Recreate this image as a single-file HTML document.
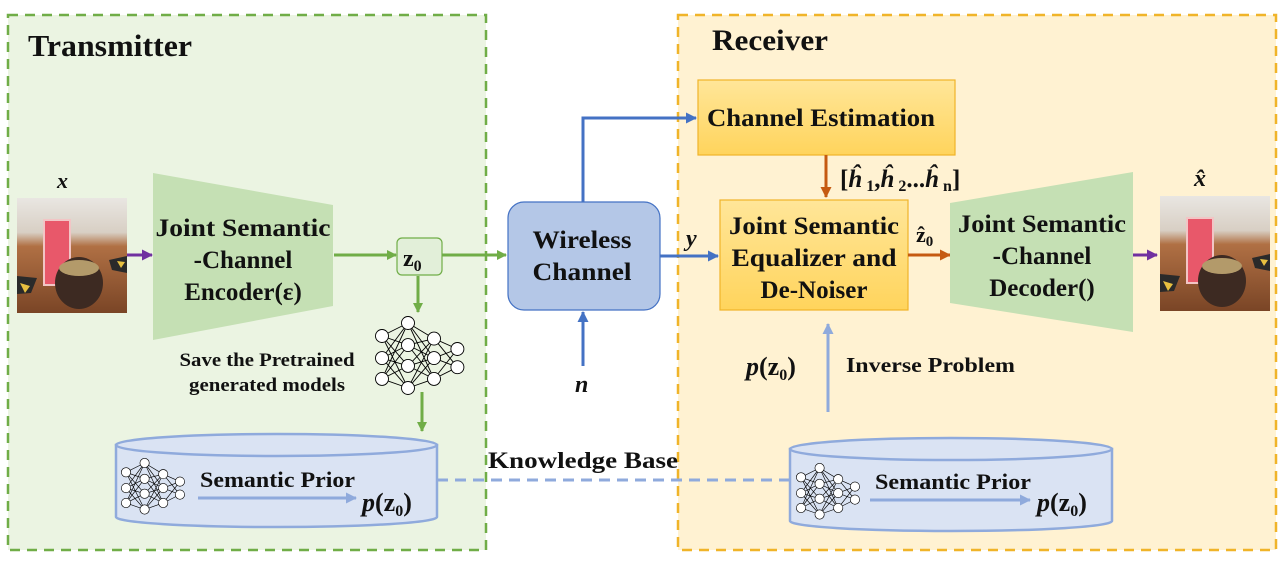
<!DOCTYPE html>
<html><head><meta charset="utf-8"><style>
html,body{margin:0;padding:0;background:#fff;}
svg{display:block;}
text{font-family:"Liberation Serif",serif;font-weight:bold;fill:#111;}
</style></head><body>
<svg width="1280" height="567" viewBox="0 0 1280 567" xmlns="http://www.w3.org/2000/svg">
<defs>
<marker id="ag" markerWidth="10" markerHeight="10" refX="9" refY="5" orient="auto" markerUnits="userSpaceOnUse"><path d="M0,0 L10,5 L0,10z" fill="#70ad47"/></marker>
<marker id="ab" markerWidth="11" markerHeight="11" refX="10" refY="5.5" orient="auto" markerUnits="userSpaceOnUse"><path d="M0,0 L11,5.5 L0,11z" fill="#4472c4"/></marker>
<marker id="al" markerWidth="11" markerHeight="11" refX="10" refY="5.5" orient="auto" markerUnits="userSpaceOnUse"><path d="M0,0 L11,5.5 L0,11z" fill="#8faadc"/></marker>
<marker id="ao" markerWidth="11" markerHeight="11" refX="10" refY="5.5" orient="auto" markerUnits="userSpaceOnUse"><path d="M0,0 L11,5.5 L0,11z" fill="#c55a11"/></marker>
<marker id="ap" markerWidth="11" markerHeight="11" refX="10" refY="5.5" orient="auto" markerUnits="userSpaceOnUse"><path d="M0,0 L11,5.5 L0,11z" fill="#7030a0"/></marker>
<linearGradient id="wood" x1="0" y1="0" x2="0" y2="1"><stop offset="0" stop-color="#e9e6e2"/><stop offset="0.3" stop-color="#d8cfc4"/><stop offset="0.42" stop-color="#b07044"/><stop offset="1" stop-color="#7a4526"/></linearGradient>
<linearGradient id="yel" x1="0" y1="0" x2="0" y2="1"><stop offset="0" stop-color="#ffe699"/><stop offset="1" stop-color="#ffd45c"/></linearGradient>
<g id="nn" stroke="#000" stroke-width="0.7" fill="#fff">
<path d="M0,10 L20,0 M0,10 L20,17 M0,10 L20,33 M0,10 L20,50 M0,27 L20,0 M0,27 L20,17 M0,27 L20,33 M0,27 L20,50 M0,43 L20,0 M0,43 L20,17 M0,43 L20,33 M0,43 L20,50 M20,0 L40,12 M20,0 L40,27 M20,0 L40,43 M20,17 L40,12 M20,17 L40,27 M20,17 L40,43 M20,33 L40,12 M20,33 L40,27 M20,33 L40,43 M20,50 L40,12 M20,50 L40,27 M20,50 L40,43 M40,12 L58,20 M40,12 L58,34 M40,27 L58,20 M40,27 L58,34 M40,43 L58,20 M40,43 L58,34" fill="none"/>
<circle cx="0" cy="10" r="5"/><circle cx="0" cy="27" r="5"/><circle cx="0" cy="43" r="5"/>
<circle cx="20" cy="0" r="5"/><circle cx="20" cy="17" r="5"/><circle cx="20" cy="33" r="5"/><circle cx="20" cy="50" r="5"/>
<circle cx="40" cy="12" r="5"/><circle cx="40" cy="27" r="5"/><circle cx="40" cy="43" r="5"/>
<circle cx="58" cy="20" r="5"/><circle cx="58" cy="34" r="5"/>
</g>
<g id="photo">
<rect x="0" y="0" width="110" height="115" fill="url(#wood)"/>
<rect x="27" y="22" width="26" height="65" fill="#e8586a" stroke="#f2c5c5" stroke-width="2"/>
<ellipse cx="62" cy="85" rx="24" ry="26" fill="#3d2a22"/>
<ellipse cx="62" cy="70" rx="20" ry="8" fill="#b39a6a"/>
<path d="M0,78 L20,80 L14,95 L0,96z" fill="#2a2a2a"/><path d="M3,85 L13,88 L8,95z" fill="#e7c040"/>
<path d="M92,62 L110,58 L110,75 L95,72z" fill="#2a2a2a"/><path d="M100,63 L108,64 L104,70z" fill="#e7c040"/>
</g>
</defs>

<rect x="8" y="15" width="478" height="535" fill="#ebf4e2" stroke="#70ad47" stroke-width="2.5" stroke-dasharray="10,7"/>
<rect x="678" y="15" width="598" height="535" fill="#fff2d2" stroke="#f0b429" stroke-width="2.5" stroke-dasharray="10,7"/>
<text x="28" y="56" font-size="31" textLength="164" lengthAdjust="spacingAndGlyphs">Transmitter</text>
<text x="712" y="50" font-size="30" textLength="116" lengthAdjust="spacingAndGlyphs">Receiver</text>

<text x="57" y="188" font-size="22" font-style="italic">x</text>
<use href="#photo" x="17" y="198"/>
<line x1="127" y1="255" x2="152" y2="255" stroke="#7030a0" stroke-width="3" marker-end="url(#ap)"/>

<polygon points="153,173 333,205 333,306 153,340" fill="#c5e0b4"/>
<g font-size="25" text-anchor="middle">
<text x="243" y="236" textLength="175" lengthAdjust="spacingAndGlyphs">Joint Semantic</text>
<text x="243" y="268">-Channel</text>
<text x="243" y="300">Encoder(ε)</text></g>
<line x1="334" y1="255" x2="396" y2="255" stroke="#70ad47" stroke-width="3" marker-end="url(#ag)"/>
<rect x="397" y="238" width="45" height="37" rx="5" fill="#e2efd9" stroke="#70ad47" stroke-width="1.2"/>
<text x="403" y="266" font-size="24">z<tspan font-size="16" dy="5">0</tspan></text>
<line x1="442" y1="255" x2="506" y2="255" stroke="#70ad47" stroke-width="3" marker-end="url(#ag)"/>
<line x1="418" y1="276" x2="418" y2="312" stroke="#70ad47" stroke-width="3" marker-end="url(#ag)"/>
<use href="#nn" transform="translate(382,323) scale(1.3)"/>
<line x1="422" y1="392" x2="422" y2="431" stroke="#70ad47" stroke-width="3" marker-end="url(#ag)"/>
<g font-size="19" text-anchor="middle">
<text x="267" y="366" textLength="175" lengthAdjust="spacingAndGlyphs">Save the Pretrained</text>
<text x="267" y="391" textLength="156" lengthAdjust="spacingAndGlyphs">generated models</text></g>

<path d="M116,445 L116,517 A160,10 0 0 0 437,517 L437,445z" fill="#dae3f3" stroke="#8faadc" stroke-width="2.5"/>
<ellipse cx="276.5" cy="445" rx="160.5" ry="11" fill="#dae3f3" stroke="#8faadc" stroke-width="2.5"/>
<use href="#nn" transform="translate(126,463) scale(0.93)"/>
<text x="200" y="487" font-size="22" textLength="155" lengthAdjust="spacingAndGlyphs">Semantic Prior</text>
<line x1="198" y1="498" x2="356" y2="498" stroke="#8faadc" stroke-width="3" marker-end="url(#al)"/>
<text x="362" y="511" font-size="26"><tspan font-style="italic">p</tspan>(z<tspan font-size="16" dy="5">0</tspan><tspan dy="-5">)</tspan></text>

<line x1="437" y1="480" x2="790" y2="480" stroke="#8faadc" stroke-width="3" stroke-dasharray="11,7"/>
<text x="488" y="468" font-size="23" textLength="190" lengthAdjust="spacingAndGlyphs">Knowledge Base</text>

<rect x="508" y="202" width="152" height="108" rx="16" fill="#b4c7e7" stroke="#4472c4" stroke-width="1.2"/>
<g font-size="25" text-anchor="middle">
<text x="582" y="248" textLength="99" lengthAdjust="spacingAndGlyphs">Wireless</text>
<text x="582" y="280" textLength="99" lengthAdjust="spacingAndGlyphs">Channel</text></g>
<polyline points="583,202 583,118 696,118" fill="none" stroke="#4472c4" stroke-width="3" marker-end="url(#ab)"/>
<line x1="583" y1="366" x2="583" y2="312" stroke="#4472c4" stroke-width="3" marker-end="url(#ab)"/>
<text x="575" y="392" font-size="24" font-style="italic">n</text>
<line x1="660" y1="256" x2="718" y2="256" stroke="#4472c4" stroke-width="3" marker-end="url(#ab)"/>
<text x="686" y="246" font-size="24" font-style="italic">y</text>

<rect x="698" y="80" width="257" height="75" fill="url(#yel)" stroke="#f0b429" stroke-width="1.2"/>
<text x="821" y="126" font-size="25" text-anchor="middle" textLength="228" lengthAdjust="spacingAndGlyphs">Channel Estimation</text>
<line x1="826" y1="155" x2="826" y2="197" stroke="#c55a11" stroke-width="3" marker-end="url(#ao)"/>
<text x="840" y="187" font-size="25">[<tspan font-style="italic">ĥ</tspan><tspan font-size="16" dy="4"> 1</tspan><tspan dy="-4">,</tspan><tspan font-style="italic">ĥ</tspan><tspan font-size="16" dy="4"> 2</tspan><tspan dy="-4">...</tspan><tspan font-style="italic">ĥ</tspan><tspan font-size="16" dy="4"> n</tspan><tspan dy="-4">]</tspan></text>

<rect x="720" y="200" width="188" height="110" fill="url(#yel)" stroke="#f0b429" stroke-width="1.2"/>
<g font-size="25" text-anchor="middle">
<text x="814" y="234" textLength="170" lengthAdjust="spacingAndGlyphs">Joint Semantic</text>
<text x="814" y="266" textLength="165" lengthAdjust="spacingAndGlyphs">Equalizer and</text>
<text x="814" y="298">De-Noiser</text></g>
<line x1="908" y1="255" x2="950" y2="255" stroke="#c55a11" stroke-width="3" marker-end="url(#ao)"/>
<text x="916" y="242" font-size="22">ẑ<tspan font-size="15" dy="4">0</tspan></text>

<polygon points="950,203 1133,172 1133,332 950,303" fill="#c5e0b4"/>
<g font-size="25" text-anchor="middle">
<text x="1042" y="232" textLength="168" lengthAdjust="spacingAndGlyphs">Joint Semantic</text>
<text x="1042" y="264">-Channel</text>
<text x="1042" y="296">Decoder()</text></g>
<line x1="1133" y1="255" x2="1157" y2="255" stroke="#7030a0" stroke-width="3" marker-end="url(#ap)"/>
<use href="#photo" x="1160" y="196"/>
<text x="1194" y="186" font-size="24" font-style="italic">x̂</text>

<line x1="828" y1="412" x2="828" y2="324" stroke="#8faadc" stroke-width="3" marker-end="url(#al)"/>
<text x="746" y="375" font-size="26"><tspan font-style="italic">p</tspan>(z<tspan font-size="16" dy="5">0</tspan><tspan dy="-5">)</tspan></text>
<text x="846" y="372" font-size="21" textLength="169" lengthAdjust="spacingAndGlyphs">Inverse Problem</text>

<path d="M790,449 L790,521 A161,10 0 0 0 1112,521 L1112,449z" fill="#dae3f3" stroke="#8faadc" stroke-width="2.5"/>
<ellipse cx="951" cy="449" rx="161" ry="11" fill="#dae3f3" stroke="#8faadc" stroke-width="2.5"/>
<use href="#nn" transform="translate(801,468) scale(0.93)"/>
<text x="875" y="489" font-size="22" textLength="156" lengthAdjust="spacingAndGlyphs">Semantic Prior</text>
<line x1="870" y1="500" x2="1030" y2="500" stroke="#8faadc" stroke-width="3" marker-end="url(#al)"/>
<text x="1037" y="511" font-size="26"><tspan font-style="italic">p</tspan>(z<tspan font-size="16" dy="5">0</tspan><tspan dy="-5">)</tspan></text>
</svg>
</body></html>
